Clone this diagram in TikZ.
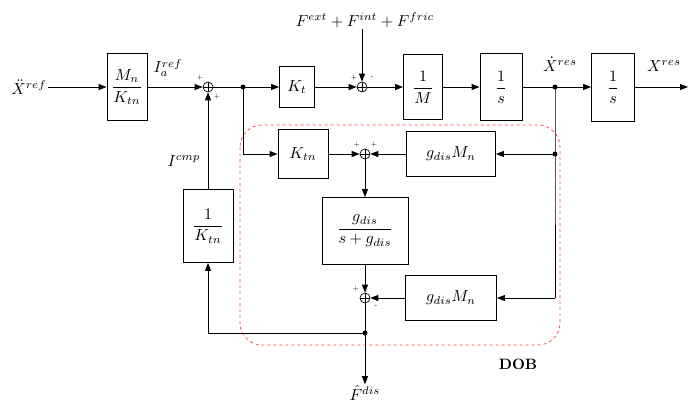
\documentclass[tikz,border=0pt]{standalone}
\usepackage{amsmath}
\usepackage{graphicx}
\usetikzlibrary{arrows.meta,calc}
\newcommand{\mm}[1]{\scalebox{1.6}{$#1$}}
\begin{document}
\begin{tikzpicture}[x=1pt,y=-1pt,
  blk/.style={draw, line width=0.9pt, minimum width=#1, inner sep=0pt, align=center},
  sumc/.style={draw, circle, line width=0.7pt, minimum size=10pt, inner sep=0pt,
     path picture={\draw[line width=0.5pt] (path picture bounding box.north) -- (path picture bounding box.south)
       (path picture bounding box.west) -- (path picture bounding box.east);}},
  dotn/.style={circle, fill, minimum size=5pt, inner sep=0pt},
  lbl/.style={inner sep=1pt},
  sgn/.style={font=\scriptsize, inner sep=0pt},
  conn/.style={line width=0.9pt},
  arr/.style={line width=0.9pt, -{Triangle[length=8pt,width=6pt]}},
  dob/.style={draw=red!70, dashed, line width=0.8pt, rounded corners=22pt}
]
\useasboundingbox (0,0) rectangle (695,405);
% DOB frame
\draw[dob] (240,125) rectangle (560,345);
\node (doblbl) at (518,364) {\scalebox{1.5}{\bfseries DOB}};

% main path
\node[lbl] (xref) at (29,87) {\mm{\ddot{X}^{ref}}};
\node[blk=40pt, minimum height=67pt] (b1) at (127,87) {\mm{\dfrac{M_n}{K_{tn}}}};
\node[lbl] (ia) at (168,68) {\mm{I_a^{ref}}};
\node[sumc] (s1) at (208,87) {};
\node[dotn] (d1) at (243,87) {};
\node[blk=35pt, minimum height=41pt] (kt) at (297,87) {\mm{K_t}};
\node[sumc] (s2) at (362,87) {};
\node[lbl] (F) at (365,20) {\mm{F^{ext}+F^{int}+F^{fric}}};
\node[blk=39pt, minimum height=65pt] (m) at (423,87) {\mm{\dfrac{1}{M}}};
\node[blk=42pt, minimum height=67pt] (sb1) at (501,87) {\mm{\dfrac{1}{s}}};
\node[dotn] (d2) at (555,87) {};
\node[lbl] (xdres) at (560,64) {\mm{\dot{X}^{res}}};
\node[blk=43pt, minimum height=68pt] (sb2) at (613,87) {\mm{\dfrac{1}{s}}};
\node[lbl] (xres) at (664,66) {\mm{X^{res}}};
\coordinate (out) at (688,87);

% DOB internals
\node[blk=50pt, minimum height=49pt] (ktn) at (303,154) {\mm{K_{tn}}};
\node[sumc] (s3) at (365,154) {};
\node[blk=89pt, minimum height=45pt] (gm1) at (451,154) {\mm{g_{dis}M_n}};
\node[dotn] (d3) at (555,154) {};
\coordinate (c4) at (555,298);
\node[blk=86pt, minimum height=67pt] (ratio) at (365,231) {\mm{\dfrac{g_{dis}}{s+g_{dis}}}};
\node[sumc] (s4) at (365,298) {};
\node[blk=91pt, minimum height=45pt] (gm2) at (451,298) {\mm{g_{dis}M_n}};
\node[dotn] (d4) at (365,333) {};
\node[lbl] (fdis) at (365,393) {\mm{\hat{F}^{dis}}};
\node[blk=50pt, minimum height=73pt] (ik) at (208,226) {\mm{\dfrac{1}{K_{tn}}}};
\node[lbl] (icmp) at (184,161) {\mm{I^{cmp}}};

% signs
\node[sgn] (p1a) at (200,78) {+};
\node[sgn] (p1b) at (217,97) {+};
\node[sgn] (p2a) at (354,78) {+};
\node[sgn] (p2b) at (372,78) {-};
\node[sgn] (p3a) at (357,145) {+};
\node[sgn] (p3b) at (374,145) {+};
\node[sgn] (p4a) at (356,289) {+};
\node[sgn] (p4b) at (376,307) {-};

% connectors
\draw[arr] (xref.east) -- (b1.west);
\draw[arr] (b1.east) -- (s1.west);
\draw[conn] (s1.east) -- (d1.center);
\draw[arr] (d1.center) -- (kt.west);
\draw[arr] (kt.east) -- (s2.west);
\draw[arr] (F.south -| s2.north) -- (s2.north);
\draw[arr] (s2.east) -- (m.west);
\draw[arr] (m.east) -- (sb1.west);
\draw[conn] (sb1.east) -- (d2.center);
\draw[arr] (d2.center) -- (sb2.west);
\draw[arr] (sb2.east) -- (out);

\draw[conn] (d2.center) -- (d3.center) -- (c4);
\draw[arr] (d3.center) -- (gm1.east);
\draw[arr] (c4) -- (gm2.east);
\draw[arr] (gm1.west) -- (s3.east);
\draw[arr] (d1.center) |- (ktn.west);
\draw[arr] (ktn.east) -- (s3.west);
\draw[arr] (s3.south) -- (ratio.north);
\draw[arr] (ratio.south) -- (s4.north);
\draw[arr] (gm2.west) -- (s4.east);
\draw[conn] (s4.south) -- (d4.center);
\draw[arr] (d4.center) -- (fdis.north);
\draw[arr] (d4.center) -| (ik.south);
\draw[arr] (ik.north) -- (s1.south);
\end{tikzpicture}
\end{document}
